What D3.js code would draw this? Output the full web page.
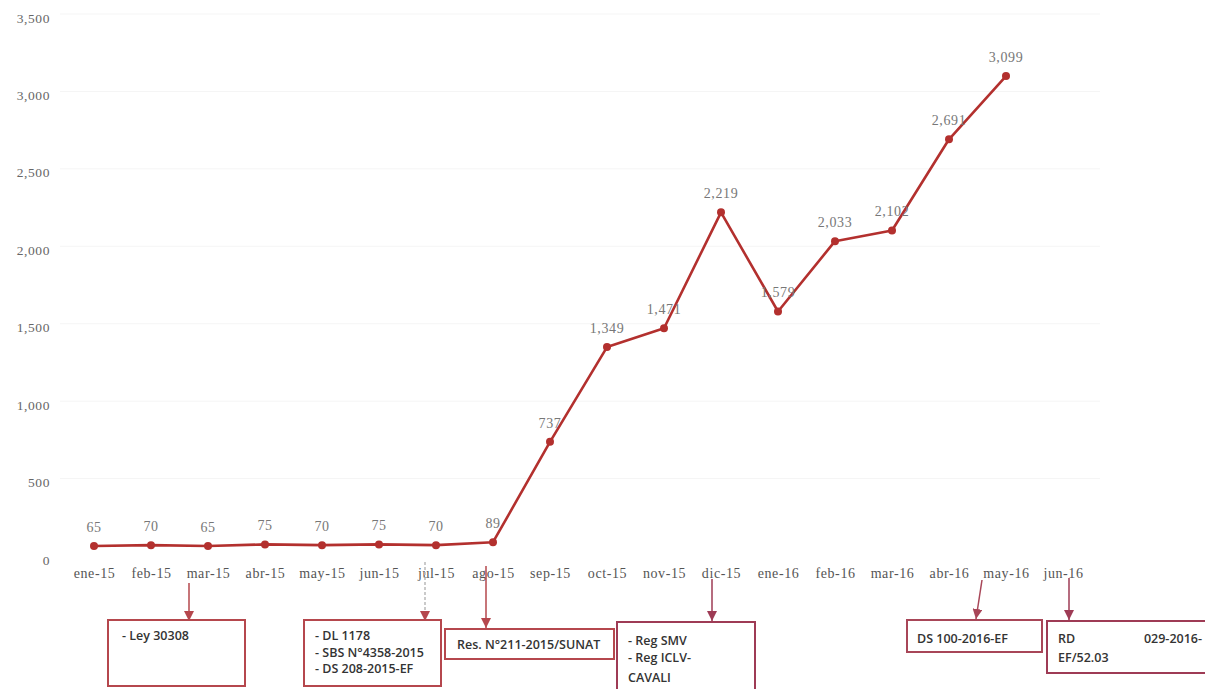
<!DOCTYPE html>
<html>
<head>
<meta charset="utf-8">
<script src="https://cdn.jsdelivr.net/npm/d3@7"></script>
<style>
  html, body { margin: 0; padding: 0; background: #fff; }
  svg { display: block; }
  .serif { font-family: "Liberation Serif", serif; letter-spacing: 0.6px; }
  .sans { font-family: "Open Sans", "Lato", sans-serif; }
</style>
</head>
<body>
<svg id="chart" width="1205" height="689"></svg>
<script>
// ---- data ----
const categories = ["ene-15","feb-15","mar-15","abr-15","may-15","jun-15","jul-15","ago-15","sep-15","oct-15","nov-15","dic-15","ene-16","feb-16","mar-16","abr-16","may-16","jun-16"];
const values = [65, 70, 65, 75, 70, 75, 70, 89, 737, 1349, 1471, 2219, 1579, 2033, 2102, 2691, 3099];
const yTicks = [0, 500, 1000, 1500, 2000, 2500, 3000, 3500];
const noteTexts = [
  ["- Ley 30308"],
  ["- DL 1178", "- SBS N°4358-2015", "- DS 208-2015-EF"],
  ["Res. N°211-2015/SUNAT"],
  ["- Reg SMV", "- Reg ICLV-", "CAVALI"],
  ["DS 100-2016-EF"],
  ["RD", "EF/52.03"]
];

// ---- layout (not data) ----
const noteLayout = [
  {box:[108,620,137,66], ax:[189,583,189,621], tx:122, ty:[640], lineColor:"#b5474d"},
  {box:[304,620,137,66], ax:[425,562,425,621], tx:315, ty:[640,657,673], lineColor:"#b9b9b9", dash:"3,2"},
  {box:[445,629,169,30], ax:[486,566,486,628], tx:457, ty:[649], lineColor:"#b5474d"},
  {box:[617,622,138,70], ax:[712,579,712,621], tx:628, ty:[645,662,682], lineColor:"#9e3b55"},
  {box:[907,620,135,32], ax:[982,580,976,619], tx:917, ty:[643], lineColor:"#a84658"},
  {box:[1047,621,162,52], ax:[1069,578,1069,620], tx:1058, ty:[643,662], lineColor:"#9e3b55"}
];

const svg = d3.select("#chart");
const x = d3.scalePoint().domain(categories).range([94, 1063]);
const y = d3.scaleLinear().domain([0, 3500]).range([556, 14]);

const red = "#b3302e";

// faint gridlines
svg.append("g").selectAll("line").data(yTicks.slice(1)).join("line")
  .attr("x1", 60).attr("x2", 1100)
  .attr("y1", d => y(d)).attr("y2", d => y(d))
  .attr("stroke", "#f5f5f5").attr("stroke-width", 1);

// y axis
const yAxis = d3.axisLeft(y).tickValues(yTicks).tickFormat(d3.format(",")).tickSize(0).tickPadding(0);
const gy = svg.append("g").attr("transform", "translate(50,0)").call(yAxis)
  .attr("font-family", null).attr("font-size", null);
gy.select(".domain").remove();
gy.selectAll("text").attr("class", "serif").style("font-size", "13.5px").attr("fill", "#666").attr("dy", "0.6em");

// x axis
const xAxis = d3.axisBottom(x).tickSize(0).tickPadding(0);
const gx = svg.append("g").attr("transform", "translate(0,568)").call(xAxis)
  .attr("font-family", null).attr("font-size", null);
gx.select(".domain").remove();
gx.selectAll("text").attr("class", "serif").style("font-size", "14px").attr("fill", "#555").attr("dy", "0.71em");

// line
const pts = values.map((v, i) => ({c: categories[i], v}));
svg.append("path").datum(pts)
  .attr("fill", "none").attr("stroke", red).attr("stroke-width", 2.6)
  .attr("stroke-linejoin", "round")
  .attr("d", d3.line().x(d => x(d.c)).y(d => y(d.v)));

svg.append("g").selectAll("circle").data(pts).join("circle")
  .attr("cx", d => x(d.c)).attr("cy", d => y(d.v)).attr("r", 4)
  .attr("fill", red);

svg.append("g").selectAll("text").data(pts).join("text")
  .attr("class", "serif")
  .attr("x", d => x(d.c)).attr("y", d => y(d.v) - 14)
  .attr("text-anchor", "middle")
  .style("font-size", "14px").attr("fill", "#777")
  .text(d => d3.format(",")(d.v));

// annotations
const defs = svg.append("defs");
noteLayout.forEach((L, i) => {
  const id = "ah" + i;
  const headColor = i === 1 ? "#b5474d" : L.lineColor;
  defs.append("marker").attr("id", id).attr("viewBox", "0 0 10 10")
    .attr("refX", 10).attr("refY", 5).attr("markerWidth", 10).attr("markerHeight", 10)
    .attr("markerUnits", "userSpaceOnUse").attr("orient", "auto")
    .append("path").attr("d", "M0,0 L10,5 L0,10 z").attr("fill", headColor);
  const g = svg.append("g");
  g.append("line")
    .attr("x1", L.ax[0]).attr("y1", L.ax[1]).attr("x2", L.ax[2]).attr("y2", L.ax[3])
    .attr("stroke", L.lineColor).attr("stroke-width", 1.5)
    .attr("stroke-dasharray", L.dash || null)
    .attr("marker-end", `url(#${id})`);
  g.append("rect")
    .attr("x", L.box[0]).attr("y", L.box[1]).attr("width", L.box[2]).attr("height", L.box[3])
    .attr("fill", "#fff").attr("stroke", headColor).attr("stroke-width", 2);
  noteTexts[i].forEach((t, j) => {
    g.append("text").attr("class", "sans").attr("x", L.tx).attr("y", L.ty[j])
      .style("font-size", "12.5px").style("font-weight", 600)
      .attr("fill", "#333").text(t);
  });
  if (i === 5) {
    g.append("text").attr("class", "sans").attr("x", 1202).attr("y", L.ty[0]).attr("text-anchor", "end")
      .style("font-size", "12.5px").style("font-weight", 600)
      .attr("fill", "#333").text("029-2016-");
  }
});
</script>
</body>
</html>
